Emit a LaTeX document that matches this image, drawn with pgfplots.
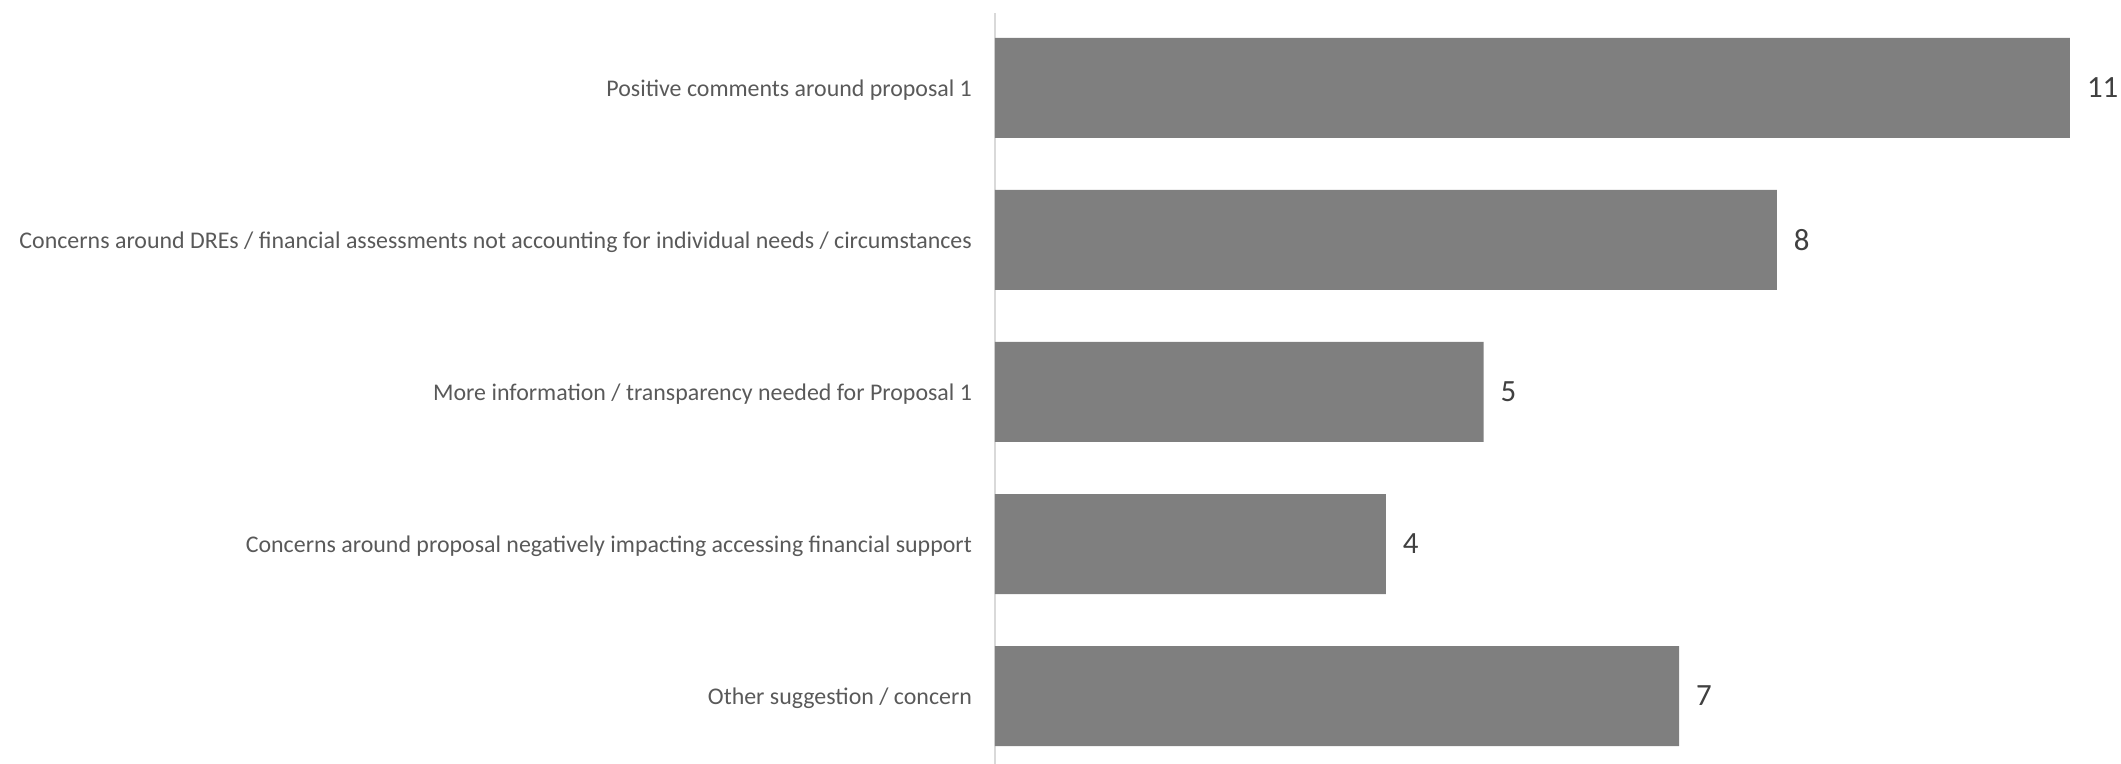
\documentclass[border=0pt]{standalone}
\usepackage{fontspec}
\setmainfont{Carlito}
\usepackage{pgfplots}
\pgfplotsset{compat=1.18}
\definecolor{barg}{HTML}{7F7F7F}
\definecolor{labg}{HTML}{595959}
\definecolor{valg}{HTML}{404040}
\definecolor{axg}{HTML}{D9D9D9}
\begin{document}
\begin{tikzpicture}
\useasboundingbox (-497.5bp,0) rectangle (563bp,382bp);
\begin{axis}[
    at={(0,0)}, anchor=south west,
    scale only axis,
    width=537.5bp, height=375.5bp,
    xbar,
    bar width=50bp,
    xmin=0, xmax=11,
    ymin=-0.447, ymax=4.493,
    ytick={0,1,2,3,4},
    yticklabels={Other suggestion / concern,
        Concerns around proposal negatively impacting accessing financial support,
        More information / transparency needed for Proposal 1,
        Concerns around DREs / financial assessments not accounting for individual needs / circumstances,
        Positive comments around proposal 1},
    xtick=\empty,
    major tick length=0pt,
    axis x line=none,
    axis y line*=left,
    y axis line style={draw=axg, line width=1bp, -},
    y tick label style={font=\fontsize{12}{14}\selectfont, text=labg, xshift=-8bp, yshift=-1bp},
    /pgf/number format/assume math mode=true,
    nodes near coords,
    nodes near coords style={font=\fontsize{15.5}{18}\selectfont, text=valg, anchor=west, xshift=5bp},
    clip=false,
]
\addplot[fill=barg, draw=none] coordinates {
    (7,0)
    (4,1)
    (5,2)
    (8,3)
    (11,4)
};
\end{axis}
\end{tikzpicture}
\end{document}
